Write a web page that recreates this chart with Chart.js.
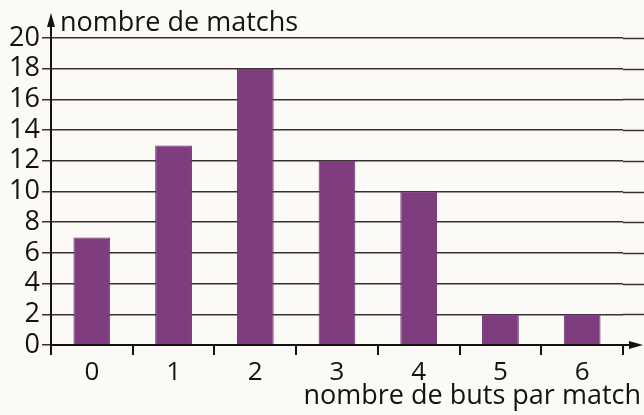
<!DOCTYPE html>
<html>
<head>
<meta charset="utf-8">
<script src="https://cdn.jsdelivr.net/npm/chart.js@4/dist/chart.umd.min.js"></script>
<style>
  html, body { margin: 0; padding: 0; background: #fbfaf6; }
  #wrap { width: 644px; height: 415px; }
</style>
</head>
<body>
<div id="wrap"><canvas id="butsChart"></canvas></div>
<script>
const goals = ["0", "1", "2", "3", "4", "5", "6"];
const matchCounts = [7, 13, 18, 12, 10, 2, 2];
const yMin = 0, yMax = 20, yStep = 2;
const yTitle = "nombre de matchs";
const xTitle = "nombre de buts par match";

const FONT = "'Open Sans', 'DejaVu Sans', sans-serif";
const INK = "#141212";
const GRID = "#3a3030";

// axes arrows, axis titles and gridlines running past the last bar
const axesPlugin = {
  id: "axes",
  beforeDraw(chart) {
    const { ctx } = chart;
    ctx.save();
    ctx.fillStyle = "#fbfaf6";
    ctx.fillRect(0, 0, chart.width, chart.height);
    ctx.restore();
  },
  afterDraw(chart) {
    const { ctx, chartArea } = chart;
    const y = chart.scales.y;
    const left = chartArea.left, bottom = chartArea.bottom;
    ctx.save();

    // gridlines continue to the right edge
    ctx.strokeStyle = GRID;
    ctx.lineWidth = 1.5;
    y.ticks.forEach(t => {
      if (t.value === 0) return;
      const py = Math.round(y.getPixelForValue(t.value)) + 0.5;
      ctx.beginPath();
      ctx.moveTo(chartArea.right, py);
      ctx.lineTo(chart.width, py);
      ctx.stroke();
    });

    // axis lines
    ctx.strokeStyle = INK;
    ctx.fillStyle = INK;
    ctx.lineWidth = 2;
    ctx.beginPath();
    ctx.moveTo(left, bottom);
    ctx.lineTo(left, 20);
    ctx.moveTo(left, bottom);
    ctx.lineTo(634, bottom);
    ctx.stroke();

    // arrowheads
    ctx.beginPath();
    ctx.moveTo(left, 13);
    ctx.lineTo(left - 4, 27);
    ctx.lineTo(left + 4, 27);
    ctx.closePath();
    ctx.fill();
    ctx.beginPath();
    ctx.moveTo(643, bottom);
    ctx.lineTo(629, bottom - 4);
    ctx.lineTo(629, bottom + 4);
    ctx.closePath();
    ctx.fill();

    // axis titles
    ctx.font = "500 27px " + FONT;
    ctx.textBaseline = "alphabetic";
    ctx.textAlign = "left";
    ctx.fillText(yTitle, 60, 31);
    ctx.textAlign = "right";
    ctx.fillText(xTitle, 641, 404);
    ctx.restore();
  }
};

const ctx = document.getElementById("butsChart").getContext("2d");
new Chart(ctx, {
  type: "bar",
  data: {
    labels: goals,
    datasets: [{
      data: matchCounts,
      backgroundColor: "#7e3d7f",
      borderColor: "#6a2d6b",
      borderWidth: 1,
      categoryPercentage: 1,
      barPercentage: 0.45
    }]
  },
  options: {
    responsive: true,
    maintainAspectRatio: false,
    animation: false,
    layout: { padding: { top: 38, right: 21, bottom: 0, left: 0 } },
    plugins: {
      legend: { display: false },
      tooltip: { enabled: false }
    },
    scales: {
      x: {
        offset: true,
        afterFit(scale) { scale.height = 70; },
        border: { display: false },
        grid: {
          offset: true,
          drawOnChartArea: false,
          tickLength: 10,
          color: INK,
          lineWidth: 2
        },
        ticks: {
          autoSkip: false,
          maxRotation: 0,
          color: INK,
          padding: 2,
          font: { family: FONT, size: 26, weight: 500 }
        }
      },
      y: {
        min: yMin,
        max: yMax,
        afterFit(scale) { scale.width = 51; },
        border: { display: false },
        grid: {
          color: GRID,
          lineWidth: 1.5,
          tickLength: 9
        },
        ticks: {
          stepSize: yStep,
          autoSkip: false,
          color: INK,
          padding: 2,
          font: { family: FONT, size: 27, weight: 500 }
        }
      }
    }
  },
  plugins: [axesPlugin]
});
</script>
</body>
</html>
